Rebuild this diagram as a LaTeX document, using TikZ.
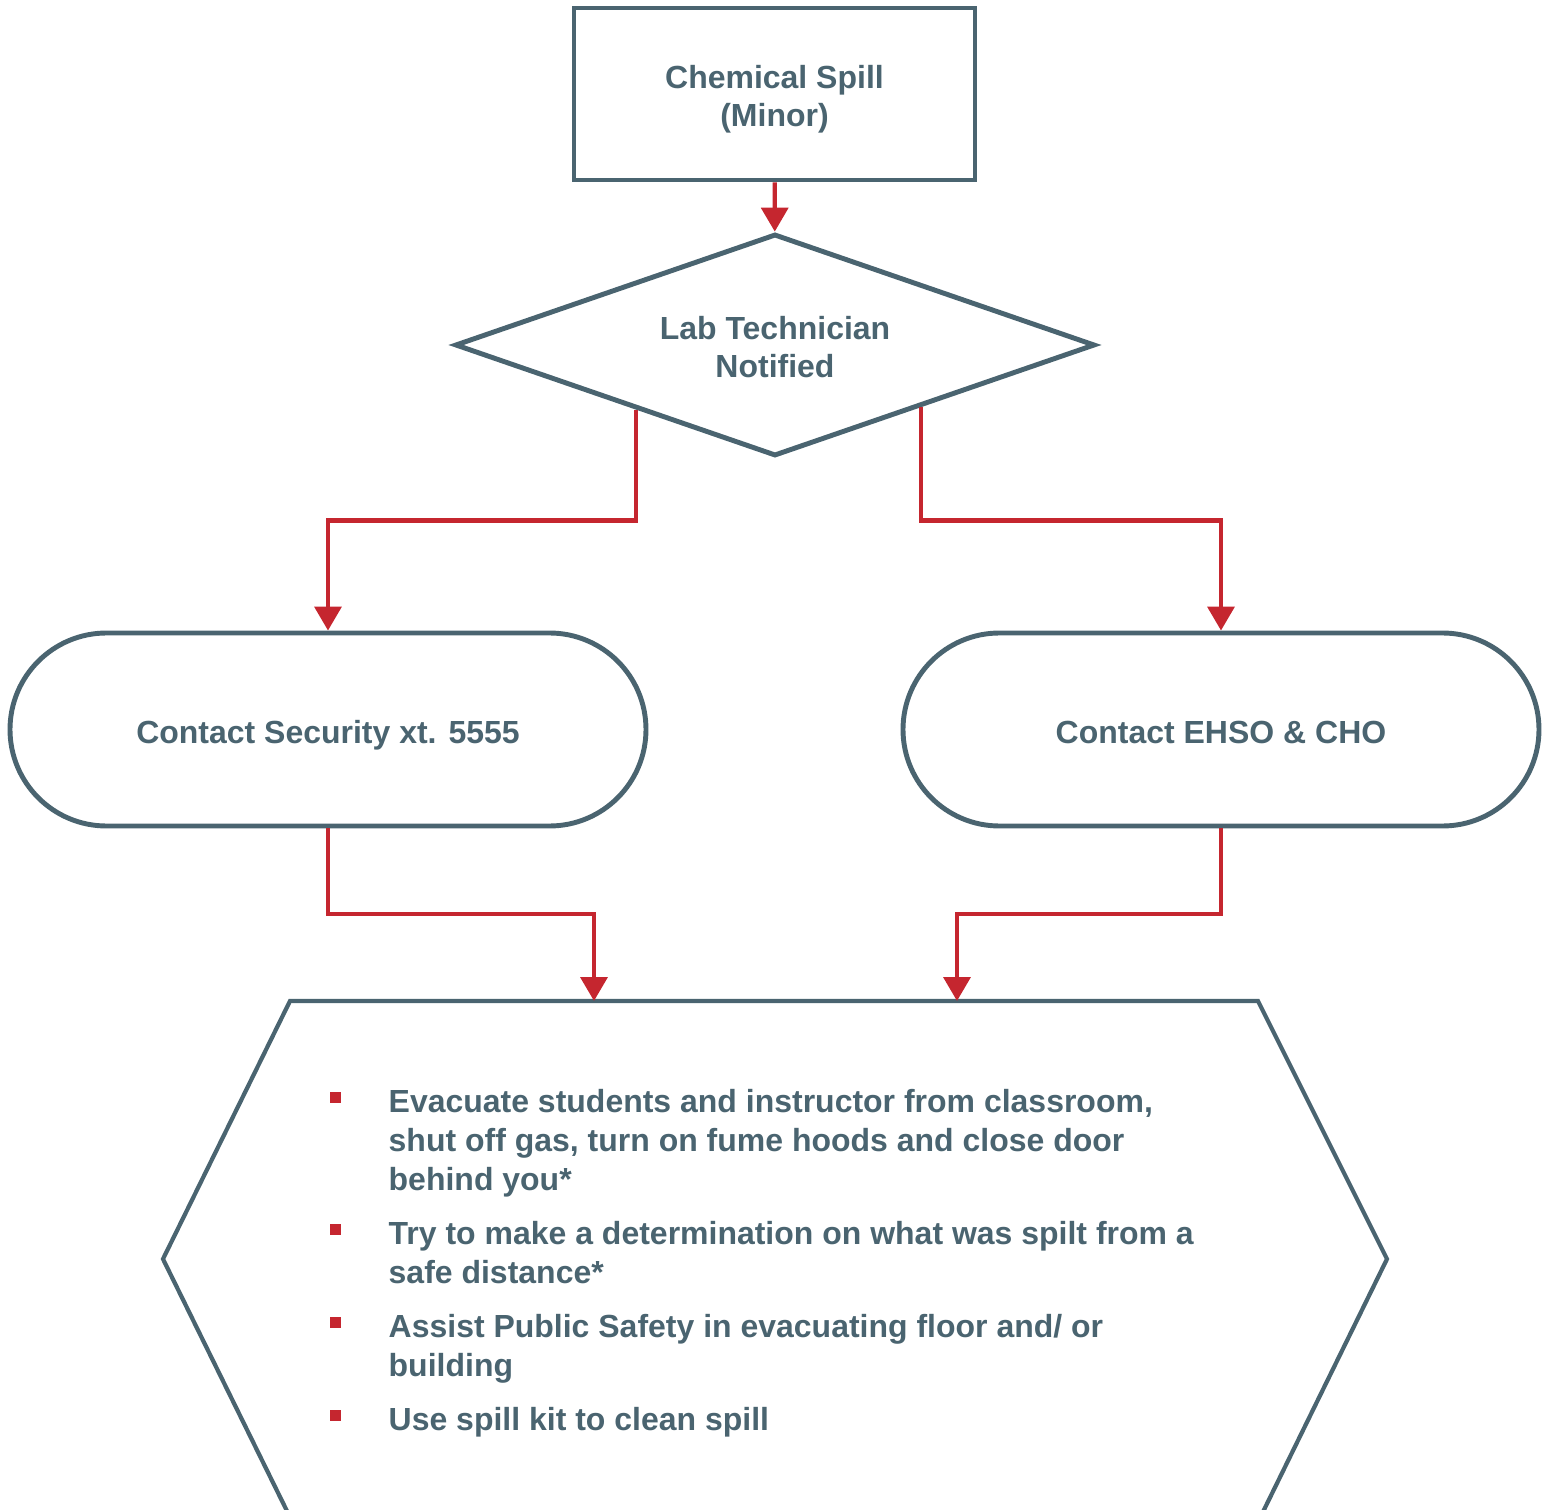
\documentclass[tikz,border=0pt]{standalone}
\usepackage{fontspec}
\setmainfont{Liberation Sans}
\usetikzlibrary{arrows.meta,shapes.geometric,shapes.misc,positioning}
\definecolor{slate}{HTML}{4A6470}
\definecolor{spillred}{HTML}{C5262F}
\begin{document}
\begin{tikzpicture}[
		box/.style={draw=slate, line width=1.4pt, fill=white, text=slate, align=center, inner sep=0pt,
			font=\fontsize{9.1}{10.8}\selectfont\bfseries},
		pill/.style={box, rounded rectangle, minimum width=6.36cm, minimum height=1.93cm, text height=8pt, text depth=0pt},
		flow/.style={draw=spillred, line width=1.2pt, -{Triangle[width=7.6pt,length=6.8pt]}},
		item/.style={anchor=north west, inner sep=0pt, text=slate, align=left,
			font=\fontsize{9.1}{11}\selectfont\bfseries},
		bullet/.style={fill=spillred, inner sep=0pt, minimum size=0.11cm}
	]
		\useasboundingbox (0,0) rectangle (15.49,-15.10);
		\node[box, rectangle, minimum width=4.01cm, minimum height=1.72cm] (spill) at (7.745,-0.94) {\rule{0pt}{9.4pt}Chemical Spill\\(Minor)};
		\node[box, diamond, aspect=2.88, minimum width=6.40cm, minimum height=2.22cm] (tech) at (7.75,-3.45) {\rule{0pt}{7.7pt}Lab Technician\\Notified};
		\node[pill] (security) at (3.28,-7.295) {Contact Security xt. 5555};
		\node[pill] (ehso) at (12.21,-7.295) {Contact EHSO \& CHO};
		% hexagon, cut by the lower edge
		\draw [slate, line width=1.2pt] (2.914,-15.2) -- (1.63,-12.59) -- (2.90,-10.01) -- (12.58,-10.01) -- (13.87,-12.59) -- (12.59,-15.2);
		\coordinate (hexL) at (5.94,-10.01);
		\coordinate (hexR) at (9.57,-10.01);
		\draw [flow] (spill) -- (tech);
		\draw [flow] (tech.205) |- ([yshift=1.10cm]security.north) -- (security.north);
		\draw [flow] (tech.-23.5) |- ([yshift=1.10cm]ehso.north) -- (ehso.north);
		\draw [flow] (security.south) |- ([yshift=0.87cm]hexL) -- (hexL);
		\draw [flow] (ehso.south) |- ([yshift=0.87cm]hexR) -- (hexR);
		\node[item] (evac) at (3.88,-10.89) {Evacuate students and instructor from classroom,\\shut off gas, turn on fume hoods and close door\\behind you*};
		\node[item] (identify) at (3.88,-12.21) {Try to make a determination on what was spilt from a\\safe distance*};
		\node[item] (assist) at (3.88,-13.14) {Assist Public Safety in evacuating floor and/ or\\building};
		\node[item] (kit) at (3.88,-14.07) {Use spill kit to clean spill};
		\foreach \step in {evac,identify,assist,kit}
			\node[bullet, below left=0.025cm and 0.46cm of \step.north west] {};
\end{tikzpicture}
\end{document}
